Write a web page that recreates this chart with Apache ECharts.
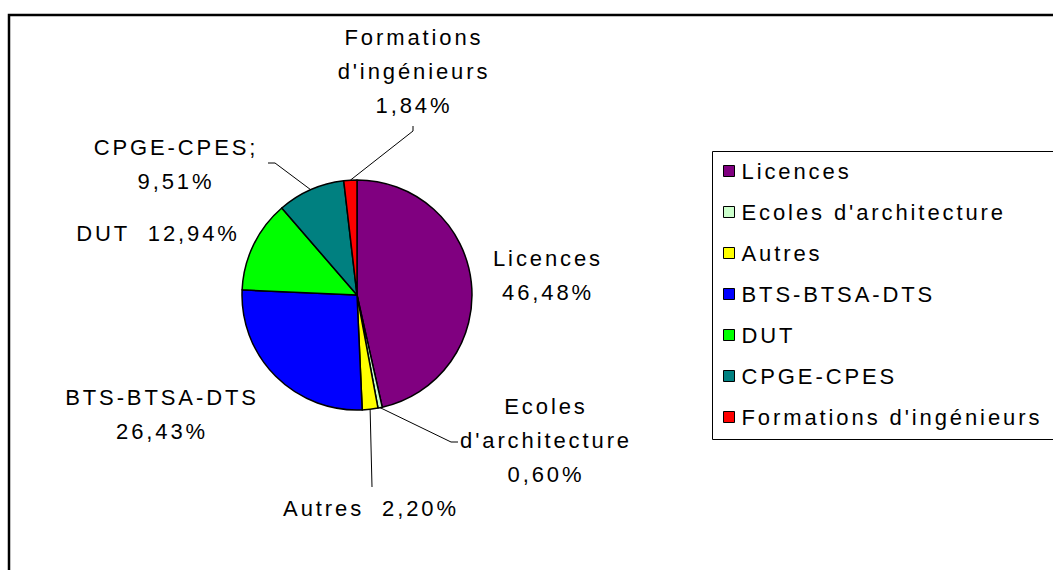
<!DOCTYPE html>
<html>
<head>
<meta charset="utf-8">
<script src="https://cdn.jsdelivr.net/npm/echarts@6/dist/echarts.min.js"></script>
<style>
  html, body { margin: 0; padding: 0; background: #fff; }
  #chart { width: 1053px; height: 570px; }
  #chart svg text { letter-spacing: 2.9px; }
</style>
</head>
<body>
<div id="chart"></div>
<script>
// ---- data ----
const categories = ["Licences", "Ecoles d'architecture", "Autres", "BTS-BTSA-DTS", "DUT", "CPGE-CPES", "Formations d'ingénieurs"];
const values = [46.48, 0.60, 2.20, 26.43, 12.94, 9.51, 1.84];
const labelNames = ["Licences", "Ecoles\nd'architecture", "Autres", "BTS-BTSA-DTS", "DUT", "CPGE-CPES;", "Formations\nd'ingénieurs"];
const labelSeparators = ["\n", "\n", "  ", "\n", "  ", "\n", "\n"];
const colors = ["#800080", "#CCFFCC", "#FFFF00", "#0000FF", "#00FF00", "#008080", "#FF0000"];

// ---- label placement (styling) ----
const labelPos = [
  [548, 275], [546, 440], [371, 508], [162, 414], [158, 233], [176, 164], [414, 71]
];
const leaderTail = [
  null,
  [[451, 442], [458, 442]],
  [[372, 487]],
  null,
  null,
  [[275, 163], [268, 163]],
  [[413, 131], [413, 126]]
];

const FONT = "'Liberation Sans', Arial, sans-serif";
const chart = echarts.init(document.getElementById('chart'), null, { renderer: 'svg' });

const data = categories.map((c, i) => ({
  name: c,
  value: values[i],
  itemStyle: { color: colors[i] },
  labelLine: { show: leaderTail[i] !== null }
}));

chart.setOption({
  animation: false,
  backgroundColor: '#ffffff',
  graphic: [
    { type: 'rect', shape: { x: 9, y: 15, width: 1200, height: 800 },
      style: { fill: 'none', stroke: '#000', lineWidth: 2.5 }, silent: true },
    { type: 'rect', shape: { x: 712.5, y: 151.5, width: 500, height: 288 },
      style: { fill: 'none', stroke: '#000', lineWidth: 1 }, silent: true }
  ],
  legend: {
    orient: 'vertical',
    left: 723,
    top: 160,
    padding: 0,
    icon: 'rect',
    itemWidth: 11,
    itemHeight: 11,
    itemGap: 19,
    itemStyle: { borderColor: '#000', borderWidth: 1 },
    textStyle: { fontFamily: FONT, fontSize: 22, color: '#000', lineHeight: 22, padding: [0, 0, 0, 2] },
    selectedMode: false,
    data: categories
  },
  series: [{
    type: 'pie',
    center: [357, 295],
    radius: 115,
    startAngle: 90,
    clockwise: true,
    avoidLabelOverlap: false,
    emphasis: { disabled: true },
    itemStyle: { borderColor: '#000', borderWidth: 1.5 },
    label: {
      show: true,
      position: 'outside',
      fontFamily: FONT,
      fontSize: 22,
      lineHeight: 34,
      color: '#000',
      align: 'center',
      formatter: p => labelNames[p.dataIndex] + labelSeparators[p.dataIndex] +
        values[p.dataIndex].toFixed(2).replace('.', ',') + '%'
    },
    labelLine: { show: true, length: 5, length2: 5, lineStyle: { color: '#000', width: 1 } },
    labelLayout: function (params) {
      const i = params.dataIndex;
      const out = { x: labelPos[i][0], y: labelPos[i][1], align: 'center', verticalAlign: 'middle', hideOverlap: false, moveOverlap: null };
      if (leaderTail[i] && params.labelLinePoints) {
        out.labelLinePoints = [params.labelLinePoints[0]].concat(leaderTail[i]);
      }
      return out;
    },
    data: data
  }]
});
</script>
</body>
</html>
